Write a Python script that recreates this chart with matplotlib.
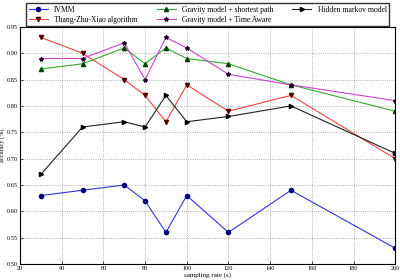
import numpy as np
import matplotlib.pyplot as plt

plt.rcParams['font.family'] = ['Liberation Serif', 'DejaVu Serif']

rate = [30, 50, 70, 80, 90, 100, 120, 150, 200]
ivmm = [0.63, 0.64, 0.65, 0.62, 0.56, 0.63, 0.56, 0.64, 0.53]
tzx = [0.93, 0.90, 0.85, 0.82, 0.77, 0.84, 0.79, 0.82, 0.70]
grav_sp = [0.87, 0.88, 0.91, 0.88, 0.91, 0.89, 0.88, 0.84, 0.79]
grav_ta = [0.89, 0.89, 0.92, 0.85, 0.93, 0.91, 0.86, 0.84, 0.81]
hmm = [0.67, 0.76, 0.77, 0.76, 0.82, 0.77, 0.78, 0.80, 0.71]

fig = plt.figure(figsize=(4, 2.8), dpi=100)
ax = fig.add_axes([0.05, 0.057, 0.938, 0.847])

ax.plot(rate, ivmm, color='#3333dd', marker='o', ms=3, mfc='#000080', mec='#000080', lw=0.8, label='IVMM')
ax.plot(rate, tzx, color='#ee4444', marker='v', ms=3, mfc='#550000', mec='#550000', lw=0.8, label='Thang-Zhu-Xiao algorithm')
ax.plot(rate, grav_sp, color='#33aa33', marker='^', ms=3, mfc='#004400', mec='#004400', lw=0.8, label='Gravity model + shortest path')
ax.plot(rate, grav_ta, color='#cc44cc', marker='*', ms=3, mfc='#220022', mec='#220022', lw=0.8, label='Gravity model + Time Aware')
ax.plot(rate, hmm, color='#222222', marker='>', ms=3, mfc='black', mec='black', lw=0.8, label='Hidden markov model')

ax.set_xlim(20, 200)
ax.set_ylim(0.5, 0.95)
ax.set_xticks(np.arange(20, 201, 20))
ax.set_yticks(np.arange(0.5, 0.951, 0.05))
ax.set_yticklabels(['%.2f' % v for v in np.arange(0.5, 0.951, 0.05)])
ax.tick_params(labelsize=4.5, length=2, width=0.5, pad=1.5, direction='in')
ax.grid(True, linestyle=':', color='#999999', lw=0.6)
ax.set_xlabel('sampling rate (s)', fontsize=5, labelpad=1)
ax.set_ylabel('accuracy (%)', fontsize=4.5)
ax.yaxis.set_label_coords(-0.04, 0.5)
for s in ax.spines.values():
    s.set_linewidth(0.8)

ax.legend(loc='upper center', bbox_to_anchor=(0.5, 1.115), ncol=3, fontsize=5.5,
          frameon=True, fancybox=False, edgecolor='black', handlelength=2.5,
          columnspacing=2.5, borderpad=0.3, labelspacing=0.3)

fig.savefig('out.png', dpi=100)
